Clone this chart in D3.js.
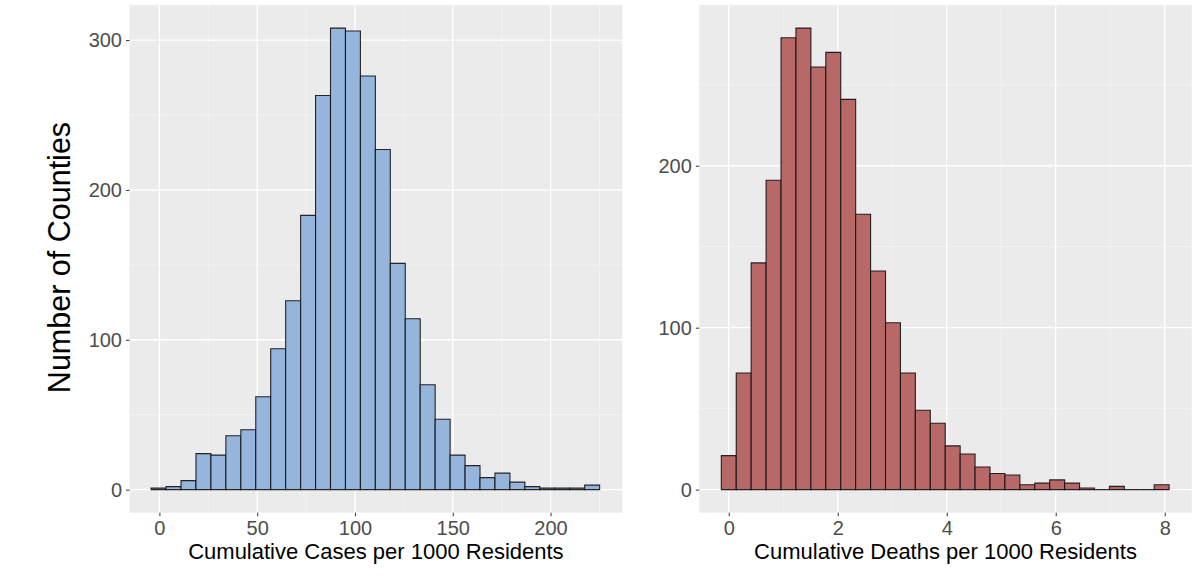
<!DOCTYPE html>
<html>
<head>
<meta charset="utf-8">
<script src="https://cdn.jsdelivr.net/npm/d3@7"></script>
<style>
  body { margin: 0; background: #fff; }
  svg { display: block; font-family: "Liberation Sans", Arial, sans-serif; }
</style>
</head>
<body>
<svg id="chart" width="1200" height="578"></svg>
<script>
// bin counts (30 bins each)
const casesCounts = [1, 2, 6, 24, 23, 36, 40, 62, 94, 126, 183, 263, 308, 306, 276,
                     227, 151, 114, 70, 47, 23, 16, 8, 11, 5, 2, 1, 1, 1, 3];
const casesBinStart = -4.25;
const casesBinWidth = 7.645;
const casesXTicks = [0, 50, 100, 150, 200];
const casesXMinor = [25, 75, 125, 175, 225];
const casesYTicks = [0, 100, 200, 300];
const casesYMinor = [50, 150, 250];

const deathsCounts = [21, 72, 140, 191, 279, 285, 261, 270, 241, 170, 135, 103, 72, 49, 41,
                      27, 22, 14, 10, 9, 3, 4, 6, 4, 1, 0, 2, 0, 0, 3];
const deathsBinStart = -0.136;
const deathsBinWidth = 0.2739;
const deathsXTicks = [0, 2, 4, 6, 8];
const deathsXMinor = [1, 3, 5, 7];
const deathsYTicks = [0, 100, 200];
const deathsYMinor = [50, 150, 250];

const svg = d3.select("#chart");

function toBins(counts, start, width) {
  return counts.map((c, i) => ({x0: start + i * width, x1: start + (i + 1) * width, n: c}));
}

function drawHist(cfg) {
  let {left, right, top, bottom, xDomain, bins, xTicks, xMinor, yTicks, yMinor, fill, xLabel} = cfg;

  let yMax = d3.max(bins, d => d.n);
  let xScale = d3.scaleLinear().domain(xDomain).range([left, right]);
  let yScale = d3.scaleLinear().domain([-0.05 * yMax, 1.05 * yMax]).range([bottom, top]);

  let g = svg.append("g");

  // panel background
  g.append("rect")
    .attr("x", left).attr("y", top)
    .attr("width", right - left).attr("height", bottom - top)
    .attr("fill", "#EBEBEB");

  // minor grid
  g.selectAll(".vminor").data(xMinor).enter().append("line")
    .attr("x1", d => xScale(d)).attr("x2", d => xScale(d))
    .attr("y1", top).attr("y2", bottom)
    .attr("stroke", "#F5F5F5").attr("stroke-width", 0.8);
  g.selectAll(".hminor").data(yMinor).enter().append("line")
    .attr("y1", d => yScale(d)).attr("y2", d => yScale(d))
    .attr("x1", left).attr("x2", right)
    .attr("stroke", "#F5F5F5").attr("stroke-width", 0.8);

  // major grid
  g.selectAll(".vmajor").data(xTicks).enter().append("line")
    .attr("x1", d => xScale(d)).attr("x2", d => xScale(d))
    .attr("y1", top).attr("y2", bottom)
    .attr("stroke", "#fff").attr("stroke-width", 1.3);
  g.selectAll(".hmajor").data(yTicks).enter().append("line")
    .attr("y1", d => yScale(d)).attr("y2", d => yScale(d))
    .attr("x1", left).attr("x2", right)
    .attr("stroke", "#fff").attr("stroke-width", 1.3);

  // bars as paths so that empty bins still show their outline on the baseline
  g.selectAll(".bar").data(bins).enter().append("path")
    .attr("d", d => {
      let x0 = xScale(d.x0), x1 = xScale(d.x1), y0 = yScale(0), y1 = yScale(d.n);
      return "M" + x0 + "," + y0 + "V" + y1 + "H" + x1 + "V" + y0 + "Z";
    })
    .attr("fill", fill)
    .attr("stroke", "#111")
    .attr("stroke-opacity", 0.9)
    .attr("stroke-width", 1.1);

  // axes
  let xAxis = g.append("g")
    .attr("transform", "translate(0," + bottom + ")")
    .call(d3.axisBottom(xScale).tickValues(xTicks).tickSize(3.5).tickPadding(4.5));
  let yAxis = g.append("g")
    .attr("transform", "translate(" + left + ",0)")
    .call(d3.axisLeft(yScale).tickValues(yTicks).tickSize(3.5).tickPadding(4));
  [xAxis, yAxis].forEach(a => {
    a.select(".domain").remove();
    a.selectAll("line").attr("stroke", "#333").attr("stroke-width", 1);
    a.selectAll("text")
      .attr("fill", "#4D4D4D")
      .style("font-size", "20px")
      .style("font-family", "'Liberation Sans', Arial, sans-serif");
  });

  // x axis title
  svg.append("text")
    .attr("x", (left + right) / 2)
    .attr("y", 559)
    .attr("text-anchor", "middle")
    .style("font-size", "22px")
    .attr("fill", "#000")
    .text(xLabel);
}

drawHist({
  left: 129.5, right: 622.3, top: 5, bottom: 512.7,
  xDomain: [-15.3, 236.7],
  bins: toBins(casesCounts, casesBinStart, casesBinWidth),
  xTicks: casesXTicks, xMinor: casesXMinor,
  yTicks: casesYTicks, yMinor: casesYMinor,
  fill: "#95B5DC",
  xLabel: "Cumulative Cases per 1000 Residents"
});

drawHist({
  left: 699.3, right: 1191.7, top: 5, bottom: 512.7,
  xDomain: [-0.54, 8.495],
  bins: toBins(deathsCounts, deathsBinStart, deathsBinWidth),
  xTicks: deathsXTicks, xMinor: deathsXMinor,
  yTicks: deathsYTicks, yMinor: deathsYMinor,
  fill: "#B96868",
  xLabel: "Cumulative Deaths per 1000 Residents"
});

// shared y axis title
svg.append("text")
  .attr("transform", "translate(70,257.5) rotate(-90)")
  .attr("text-anchor", "middle")
  .style("font-size", "30.5px")
  .attr("fill", "#000")
  .text("Number of Counties");
</script>
</body>
</html>
